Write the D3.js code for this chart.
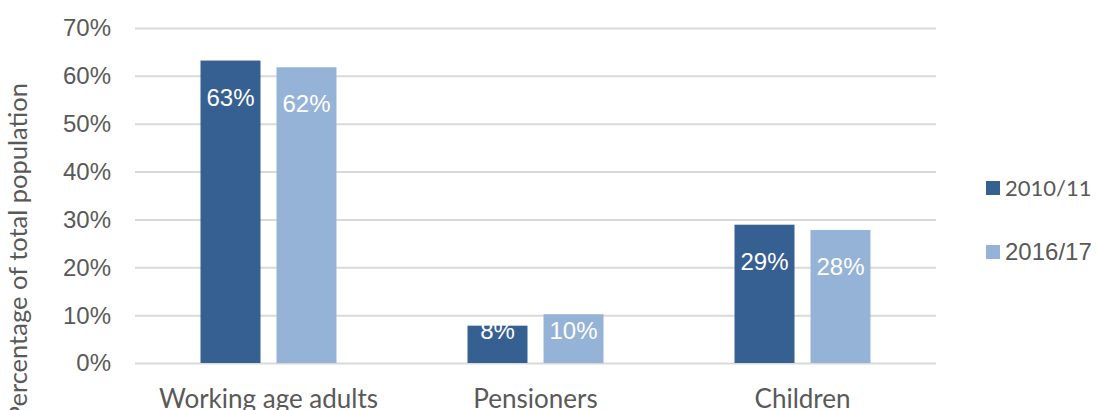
<!DOCTYPE html>
<html>
<head>
<meta charset="utf-8">
<script src="https://cdn.jsdelivr.net/npm/d3@7"></script>
<style>
  html, body { margin: 0; padding: 0; background: #fff; }
  #chart { width: 1097px; height: 410px; overflow: hidden; }
</style>
</head>
<body>
<div id="chart"></div>
<script>
    var categories = ["Working age adults", "Pensioners", "Children"];
    var seriesNames = ["2010/11", "2016/17"];
    var values2010 = [0.632, 0.078, 0.289];
    var values2016 = [0.618, 0.102, 0.278];
    var yTicks = [0, 0.1, 0.2, 0.3, 0.4, 0.5, 0.6, 0.7];
    var colors = ["#366092", "#95b3d7"];

    var width = 1097, height = 410;
    var margin = { top: 28, left: 135, right: 161, bottom: 47 };
    var graphWidth = width - margin.left - margin.right;
    var graphHeight = height - margin.top - margin.bottom;

    var svg = d3.select("#chart")
        .append("svg")
        .attr("width", width)
        .attr("height", height);

    var svg_g = svg.append("g")
        .attr("transform", `translate(${margin.left},${margin.top})`);

    var xScale = d3.scaleBand()
        .domain(categories)
        .range([0, graphWidth]);

    // inner band for the two series, 60px bars with a 16px gap
    var groupWidth = 136;
    var xInner = d3.scaleBand()
        .domain(seriesNames)
        .range([(xScale.bandwidth() - groupWidth) / 2, (xScale.bandwidth() + groupWidth) / 2])
        .paddingInner(16 / 76);

    var yScale = d3.scaleLinear()
        .domain([0, 0.7])
        .range([graphHeight, 0]);

    // gridlines + y tick labels
    var yAxis = svg_g.append("g")
        .call(d3.axisLeft(yScale)
            .tickValues(yTicks)
            .tickFormat(d3.format(".0%"))
            .tickSize(-graphWidth)
            .tickPadding(24));
    yAxis.select(".domain").remove();
    yAxis.selectAll("line")
        .attr("stroke", "#d9d9d9")
        .attr("stroke-width", 2);
    yAxis.selectAll("text")
        .attr("dy", "0.33em")
        .style("font-family", "'Liberation Sans', Arial, sans-serif")
        .style("font-size", "24px")
        .style("fill", "#595959");

    // category labels
    var xAxis = svg_g.append("g")
        .attr("transform", `translate(0,${graphHeight})`)
        .call(d3.axisBottom(xScale).tickSize(0));
    xAxis.select(".domain").remove();
    xAxis.selectAll("text")
        .attr("y", 45)
        .attr("dy", null)
        .style("font-family", "Lato, 'Open Sans', sans-serif")
        .style("font-size", "26px")
        .style("fill", "#595959");

    var rows = categories.map((c, i) => ({
        category: c,
        values: [
            { series: seriesNames[0], value: values2010[i] },
            { series: seriesNames[1], value: values2016[i] }
        ]
    }));

    var groups = svg_g.selectAll("g.group")
        .data(rows)
        .enter()
        .append("g")
        .attr("class", "group")
        .attr("transform", d => `translate(${xScale(d.category)},0)`);

    groups.selectAll("rect")
        .data(d => d.values)
        .enter()
        .append("rect")
        .attr("x", d => xInner(d.series))
        .attr("y", d => yScale(d.value))
        .attr("width", xInner.bandwidth())
        .attr("height", d => graphHeight - yScale(d.value))
        .attr("fill", (d, i) => colors[i]);

    // data labels, inside end (pushed down to a floor for short bars)
    groups.selectAll("text.label")
        .data(d => d.values)
        .enter()
        .append("text")
        .attr("class", "label")
        .attr("x", d => xInner(d.series) + xInner.bandwidth() / 2)
        .attr("y", d => Math.min(yScale(d.value) + 45, graphHeight - 24.5))
        .attr("text-anchor", "middle")
        .text(d => Math.round(d.value * 100) + "%")
        .style("font-family", "'Liberation Sans', Arial, sans-serif")
        .style("font-size", "24px")
        .style("fill", "white");

    // y axis title
    svg.append("text")
        .attr("transform", "translate(27,83) rotate(-90)")
        .attr("text-anchor", "end")
        .text("Percentage of total population")
        .style("font-family", "Lato, 'Open Sans', sans-serif")
        .style("font-size", "25.5px")
        .style("fill", "#595959");

    // legend
    var legendFonts = [
        { family: "Lato, 'Open Sans', sans-serif", size: "22px", y: 196 },
        { family: "'Liberation Sans', Arial, sans-serif", size: "24px", y: 260 }
    ];
    var legend = svg.append("g");
    seriesNames.forEach((name, i) => {
        var f = legendFonts[i];
        legend.append("rect")
            .attr("x", 986)
            .attr("y", f.y - 15)
            .attr("width", 14)
            .attr("height", 14)
            .attr("fill", colors[i]);
        legend.append("text")
            .attr("x", 1005)
            .attr("y", f.y)
            .text(name)
            .style("font-family", f.family)
            .style("font-size", f.size)
            .style("fill", "#595959");
    });
</script>
</body>
</html>
